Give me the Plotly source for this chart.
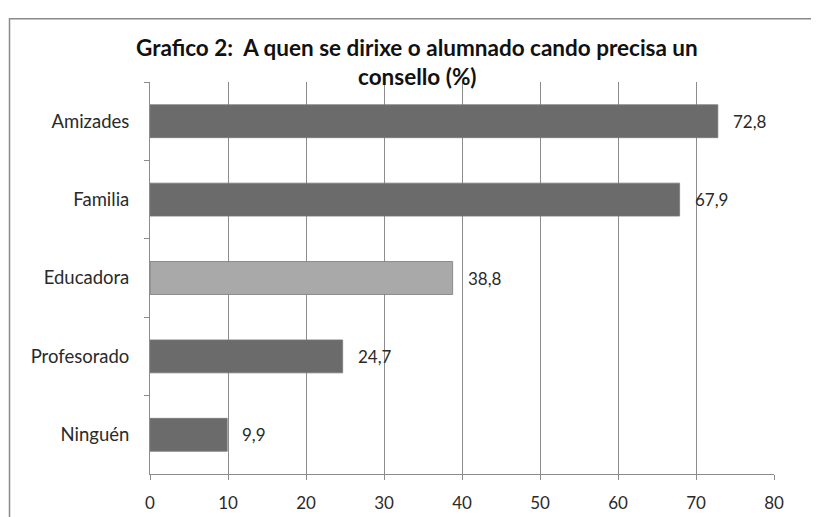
import plotly.graph_objects as go

categories = ["Amizades", "Familia", "Educadora", "Profesorado", "Ninguén"]
values = [72.8, 67.9, 38.8, 24.7, 9.9]
bar_colors = ["#6b6b6b", "#6b6b6b", "#a9a9a9", "#6b6b6b", "#6b6b6b"]
x_ticks = [0, 10, 20, 30, 40, 50, 60, 70, 80]
title_line1 = "Grafico 2:  A quen se dirixe o alumnado cando precisa un"
title_line2 = "consello (%)"

W, H = 819, 517
ML, MR, MT, MB = 142, 53, 74, 47
PW, PH = W - ML - MR, H - MT - MB

def px_x(px):
    return (px - ML) / PW

def px_y(py):
    return (H - MB - py) / PH

labels = [f"{v:.1f}".replace(".", ",") for v in values]

fig = go.Figure(go.Bar(
    x=values, y=categories, orientation="h",
    marker=dict(color=bar_colors, line=dict(color="#7a7a7a", width=0.8)),
    width=0.42, hoverinfo="skip",
))

font = "Lato, Carlito, 'Open Sans', sans-serif"

annotations = []
for c, v, t in zip(categories, values, labels):
    annotations.append(dict(x=v, y=c, xref="x", yref="y", text=t, showarrow=False,
                            xanchor="left", yanchor="middle", xshift=13,
                            font=dict(family=font, size=17, color="#2a2a2a")))
annotations.append(dict(x=px_x(409), y=px_y(39), xref="paper", yref="paper",
                        text="<b>" + title_line1 + "</b>", showarrow=False,
                        xanchor="center", yanchor="middle",
                        font=dict(family=font, size=22.5, color="#111111")))
annotations.append(dict(x=px_x(409), y=px_y(68), xref="paper", yref="paper",
                        text="<b>" + title_line2 + "</b>", showarrow=False,
                        xanchor="center", yanchor="middle",
                        font=dict(family=font, size=22.5, color="#111111")))

fig.update_layout(
    width=W, height=H,
    margin=dict(l=ML, r=MR, t=MT, b=MB),
    paper_bgcolor="white", plot_bgcolor="white",
    showlegend=False,
    annotations=annotations,
    shapes=[dict(type="rect", xref="paper", yref="paper",
                 x0=px_x(1.5), x1=px_x(840), y0=px_y(540), y1=px_y(10),
                 line=dict(color="#8a8a8a", width=1.5), layer="below")],
    xaxis=dict(range=[0, 80], tickvals=x_ticks, showgrid=True, gridcolor="#8c8c8c",
               gridwidth=1, zeroline=False, showline=True, linecolor="#8c8c8c",
               linewidth=1, ticks="outside", ticklen=5, tickcolor="#8c8c8c",
               ticklabelstandoff=9,
               tickfont=dict(family=font, size=17, color="#2a2a2a")),
    yaxis=dict(categoryorder="array", categoryarray=categories, autorange="reversed",
               tickson="boundaries", ticks="outside", ticklen=5, tickcolor="#8c8c8c",
               showgrid=False, zeroline=False, showline=True, linecolor="#8c8c8c",
               linewidth=1, ticklabelstandoff=16,
               tickfont=dict(family=font, size=18.5, color="#2a2a2a")),
)

fig.write_html("out.html")
